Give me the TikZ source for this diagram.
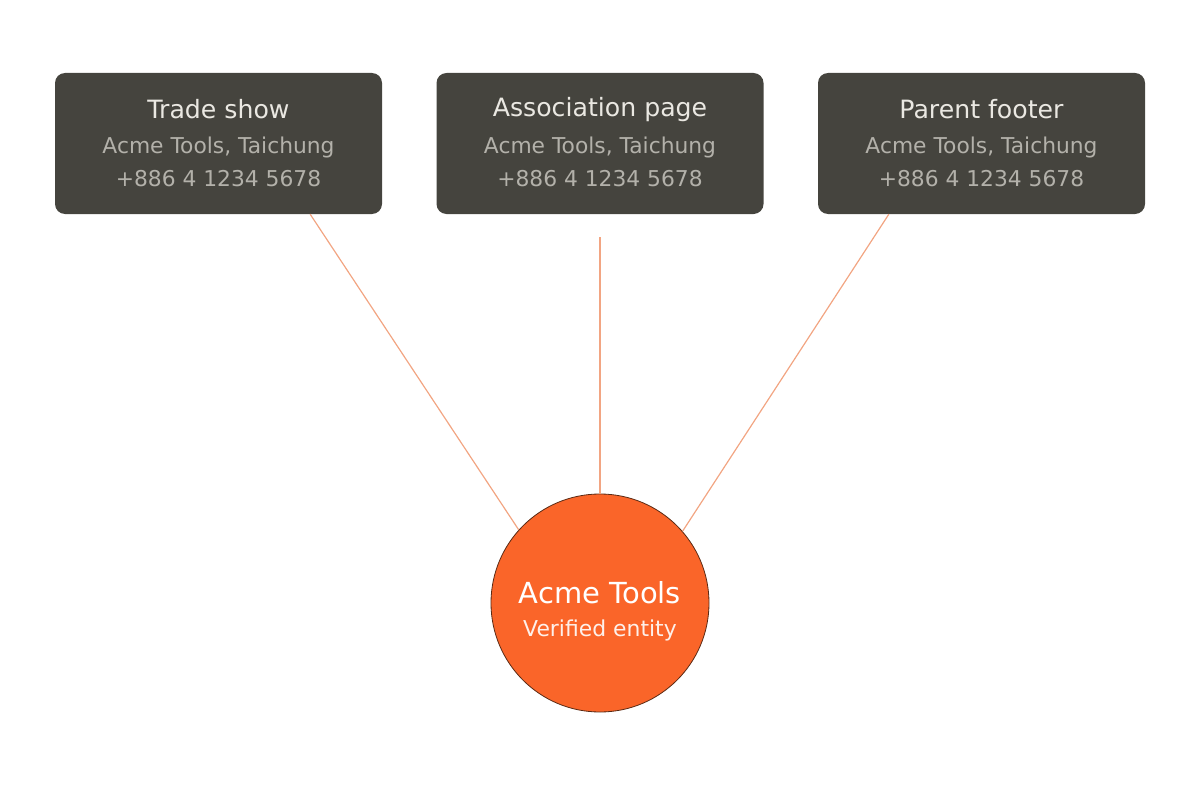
\documentclass[tikz,border=0pt]{standalone}
\usepackage{fontspec}
\setmainfont{DejaVu Sans}
\usetikzlibrary{calc}
\definecolor{boxfill}{HTML}{45443E}
\definecolor{titlecol}{HTML}{EAE8E2}
\definecolor{subcol}{HTML}{B3B1AA}
\definecolor{circfill}{HTML}{FA6529}
\definecolor{circline}{HTML}{5A2A14}
\definecolor{linkcol}{HTML}{F2A582}
\begin{document}
\begin{tikzpicture}[x=1pt,y=-1pt,
  srcbox/.style={fill=boxfill,rounded corners=10pt,minimum width=327pt,minimum height=141pt,inner sep=0pt},
  ttl/.style={text=titlecol,font=\fontsize{25.2}{29}\selectfont,anchor=center},
  sub/.style={text=subcol,font=\fontsize{21.8}{25}\selectfont,anchor=center},
  link/.style={draw=linkcol,line width=1.2pt}]
\useasboundingbox (0,0) rectangle (1200,800);
\node[srcbox] (ts) at (218.5,143.5) {};
\node[srcbox] (ap) at (600,143.5) {};
\node[srcbox] (pf) at (981.5,143.5) {};
\foreach \b/\t in {ts/Trade show,ap/Association page,pf/Parent footer}{
  \node[ttl] (\b-t) at ($(\b.center)+(0,-34)$) {\t};
  \node[sub] (\b-a) at ($(\b.center)+(0,3.5)$) {Acme Tools, Taichung};
  \node[sub] (\b-b) at ($(\b.center)+(0,35)$) {+886 4 1234 5678};
}
\node[circle,fill=circfill,draw=circline,line width=0.8pt,minimum size=218pt,inner sep=0pt] (c) at (600,603) {};
\node[text=white,font=\fontsize{29}{33}\selectfont] (c-t) at (600,593) {Acme Tools};
\node[text=white!90!circfill,font=\fontsize{21.9}{25}\selectfont] (c-s) at (600,630) {Verified entity};
\coordinate (ts-o) at ($(ts.south west)!0.78!(ts.south east)$);
\coordinate (pf-o) at ($(pf.south west)!0.217!(pf.south east)$);
\coordinate (ap-o) at ($(ap.south)+(0,23)$);
\draw[link] (ts-o) -- (c.138.3);
\draw[link] (ap-o) -- (c.north);
\draw[link] (pf-o) -- (c.41.3);
\end{tikzpicture}
\end{document}
